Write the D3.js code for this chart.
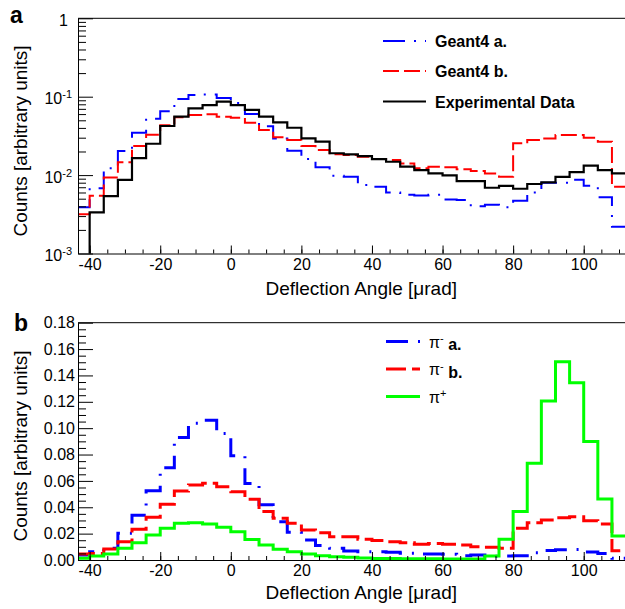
<!DOCTYPE html>
<html>
<head>
<meta charset="utf-8">
<script src="https://cdn.jsdelivr.net/npm/d3@7"></script>
<style>
  body { margin: 0; background: #fff; }
  svg { display: block; font-family: "Liberation Sans", Arial, Helvetica, sans-serif; }
</style>
</head>
<body>
<svg id="chart" width="625" height="609"></svg>
<script>
// bin edges of the histograms (4 µrad bins)
const binEdges = [-44, -40, -36, -32, -28, -24, -20, -16, -12, -8, -4, 0, 4, 8, 12, 16, 20, 24, 28, 32,
  36, 40, 44, 48, 52, 56, 60, 64, 68, 72, 76, 80, 84, 88, 92, 96, 100, 104, 108, 112];

// panel a (log scale)
const geant4A = [0.0039, 0.0068, 0.0122, 0.0203, 0.0347, 0.0524, 0.065, 0.0935, 0.105, 0.107, 0.096,
  0.083, 0.060, 0.042, 0.0294, 0.0205, 0.016, 0.0126, 0.0098, 0.0095, 0.0075, 0.0071, 0.0060, 0.0056,
  0.0055, 0.0056, 0.0049, 0.0048, 0.0040, 0.0042, 0.0039, 0.0047, 0.0060, 0.0080, 0.0080, 0.0087,
  0.0073, 0.0052, 0.0022];
const geant4B = [0.00316, 0.00546, 0.0093, 0.0146, 0.0235, 0.0328, 0.0432, 0.0546, 0.0585, 0.0596, 0.0556,
  0.054, 0.0466, 0.0376, 0.0303, 0.028, 0.0235, 0.0209, 0.0184, 0.018, 0.0172, 0.016, 0.0156, 0.0141,
  0.0122, 0.0128, 0.0126, 0.0119, 0.0113, 0.0105, 0.0095, 0.0254, 0.028, 0.0294, 0.0325, 0.0325,
  0.030, 0.0267, 0.0071];
const expData = [0, 0.00335, 0.0054, 0.0087, 0.0165, 0.0251, 0.0423, 0.0556, 0.0711, 0.0783, 0.0864,
  0.078, 0.068, 0.0556, 0.0471, 0.0402, 0.0294, 0.0267, 0.019, 0.0184, 0.0175, 0.016, 0.0148, 0.0128,
  0.0116, 0.0105, 0.0099, 0.0084, 0.0084, 0.0069, 0.0073, 0.0067, 0.0077, 0.0081, 0.0095, 0.0109,
  0.0132, 0.0116, 0.0105];

// panel b (linear scale)
const piMinusA = [0.0038, 0.0063, 0.009, 0.0202, 0.034, 0.0526, 0.070, 0.093, 0.1037, 0.106, 0.096,
  0.079, 0.058, 0.042, 0.029, 0.021, 0.0152, 0.011, 0.0089, 0.0068, 0.0063, 0.0063, 0.0058, 0.0052,
  0.0045, 0.0045, 0.0043, 0.0032, 0.0037, 0.0028, 0.003, 0.0032, 0.0055, 0.0072, 0.0078, 0.0080,
  0.006, 0.005, 0.0013];
const piMinusB = [0.0045, 0.005, 0.0083, 0.0139, 0.0233, 0.0324, 0.0422, 0.0523, 0.0569, 0.0582, 0.0556,
  0.0518, 0.046, 0.0367, 0.0316, 0.0278, 0.0228, 0.0207, 0.0177, 0.0177, 0.0157, 0.0147, 0.0139, 0.0131,
  0.0119, 0.0126, 0.012, 0.0114, 0.0101, 0.0097, 0.0089, 0.024, 0.0283, 0.0303, 0.0321, 0.0329,
  0.0298, 0.0273, 0.0071];
const piPlus = [0.0013, 0.003, 0.0045, 0.0089, 0.0131, 0.019, 0.024, 0.0278, 0.0283, 0.0273, 0.0248,
  0.0215, 0.0155, 0.0114, 0.0081, 0.0063, 0.0045, 0.0033, 0.0025, 0.002, 0.0015, 0.0012, 0.0011, 0.001,
  0.001, 0.0009, 0.0008, 0.0008, 0.0008, 0.003, 0.0157, 0.0367, 0.0733, 0.1206, 0.1504, 0.1345,
  0.0898, 0.0463, 0.0182];

// ticks
const xMajor = [-40, -20, 0, 20, 40, 60, 80, 100];
const xMinor = [-40, -35, -30, -25, -20, -15, -10, -5, 0, 5, 10, 15, 20, 25, 30, 35, 40, 45, 50, 55,
  60, 65, 70, 75, 80, 85, 90, 95, 100, 105, 110];
const yMajorA = [1e-3, 1e-2, 1e-1, 1];
const yLabelA = [["10", "-3"], ["10", "-2"], ["10", "-1"], ["1", ""]];
const yMinorA = [0.002, 0.003, 0.004, 0.005, 0.006, 0.007, 0.008, 0.009,
  0.02, 0.03, 0.04, 0.05, 0.06, 0.07, 0.08, 0.09, 0.2, 0.3, 0.4, 0.5, 0.6, 0.7, 0.8, 0.9];
const yMajorB = [0, 0.02, 0.04, 0.06, 0.08, 0.10, 0.12, 0.14, 0.16, 0.18];
const yMinorB = [0.005, 0.01, 0.015, 0.025, 0.03, 0.035, 0.045, 0.05, 0.055, 0.065, 0.07, 0.075,
  0.085, 0.09, 0.095, 0.105, 0.11, 0.115, 0.125, 0.13, 0.135, 0.145, 0.15, 0.155, 0.165, 0.17, 0.175];

const svg = d3.select("#chart");
const left = 78, right = 625;

const x = d3.scaleLinear().domain([-43.3, 111.7]).range([left, right]);
const yA = d3.scaleLog().domain([1e-3, 1]).range([253.5, 18.3]);
const yB = d3.scaleLinear().domain([0, 0.18]).range([560, 322.7]);

const panels = [
  {
    id: "a", y: yA, top: 18.3, bottom: 253.5, letterY: 23, titleCenter: 141, xTitleY: 295, xPad: 5,
    series: [
      { vals: geant4A, color: "#0000ff", dash: "22,9,2,9", width: 2, label: ["Geant4 a."] },
      { vals: geant4B, color: "#ff0000", dash: "16,5", width: 2, label: ["Geant4 b."] },
      { vals: expData, color: "#000000", dash: null, width: 2.2, label: ["Experimental Data"] }
    ],
    legendLineX: [383, 426], legendY: [41, 71, 101.5], legendTextX: 435
  },
  {
    id: "b", y: yB, top: 322.7, bottom: 560, letterY: 331, titleCenter: 446, xTitleY: 599, xPad: 5,
    series: [
      { vals: piMinusA, color: "#0000ff", dash: "22,10,2,10", width: 3, label: ["π", "-", " a."] },
      { vals: piMinusB, color: "#ff0000", dash: "20,6", width: 3, label: ["π", "-", " b."] },
      { vals: piPlus, color: "#00ff00", dash: null, width: 3, label: ["π", "+", ""] }
    ],
    legendLineX: [386, 420], legendY: [341.5, 369, 396.5], legendTextX: 429
  }
];

panels.forEach(p => {
  const g = svg.append("g");
  const clipId = "clip-" + p.id;
  svg.append("clipPath").attr("id", clipId)
    .append("rect")
    .attr("x", left).attr("y", p.top)
    .attr("width", right - left + 10).attr("height", p.bottom - p.top);

  const yv = v => v > 0 ? p.y(v) : p.bottom + 20;
  const line = d3.line()
    .x(d => x(d[0]))
    .y(d => yv(d[1]))
    .curve(d3.curveStepAfter);

  const plot = g.append("g").attr("clip-path", `url(#${clipId})`);
  p.series.forEach(s => {
    const pts = binEdges.map((e, i) => [e, s.vals[Math.min(i, s.vals.length - 1)]]);
    plot.append("path")
      .datum(pts)
      .attr("d", line)
      .attr("fill", "none")
      .attr("stroke", s.color)
      .attr("stroke-width", s.width)
      .attr("stroke-linejoin", "miter")
      .attr("stroke-dasharray", s.dash);
  });

  // frame top line
  g.append("line")
    .attr("x1", left).attr("x2", right)
    .attr("y1", p.top).attr("y2", p.top)
    .attr("stroke", "#000").attr("stroke-width", 1);

  // x axis
  g.append("g")
    .attr("transform", `translate(0,${p.bottom})`)
    .call(d3.axisBottom(x).tickValues(xMinor).tickSize(-4).tickSizeOuter(0).tickFormat(""))
    .call(a => a.select(".domain").remove());
  const xa = g.append("g")
    .attr("transform", `translate(0,${p.bottom})`)
    .call(d3.axisBottom(x).tickValues(xMajor).tickSize(-8).tickSizeOuter(0)
      .tickPadding(p.xPad).tickFormat(d => String(d)));
  xa.selectAll("text").style("font-size", "16px").attr("fill", "#000");

  // y axis
  const yMinor = p.id === "a" ? yMinorA : yMinorB;
  const yMajor = p.id === "a" ? yMajorA : yMajorB;
  g.append("g")
    .attr("transform", `translate(${left},0)`)
    .call(d3.axisLeft(p.y).tickValues(yMinor).tickSize(-8).tickSizeOuter(0).tickFormat(""))
    .call(a => a.select(".domain").remove());
  const ya = g.append("g")
    .attr("transform", `translate(${left},0)`)
    .call(d3.axisLeft(p.y).tickValues(yMajor).tickSize(-15).tickSizeOuter(0)
      .tickPadding(p.id === "a" ? 6 : 3)
      .tickFormat(p.id === "a" ? "" : d3.format(".2f")));
  ya.selectAll("text").style("font-size", "16px").attr("fill", "#000");
  if (p.id === "a") {
    ya.selectAll(".tick text").each(function(d) {
      const t = d3.select(this);
      const lab = yLabelA[yMajorA.indexOf(d)];
      t.attr("dy", "0.45em");
      t.append("tspan").text(lab[0]);
      if (lab[1]) {
        t.append("tspan").attr("dy", "-0.55em").style("font-size", "11px").text(lab[1]);
      } else {
        t.attr("dx", "-4");
      }
    });
  }
  g.selectAll(".domain").attr("stroke", "#000");
  g.selectAll(".tick line").attr("stroke", "#000");

  // axis titles
  g.append("text")
    .attr("x", 457).attr("y", p.xTitleY)
    .attr("text-anchor", "end")
    .style("font-size", "19px")
    .text("Deflection Angle [μrad]");
  g.append("text")
    .attr("transform", `translate(27,${p.titleCenter}) rotate(-90)`)
    .attr("text-anchor", "middle")
    .style("font-size", "19px")
    .text("Counts [arbitrary units]");

  // panel letter
  g.append("text")
    .attr("x", p.id === "a" ? 10 : 14).attr("y", p.letterY)
    .style("font-size", "23px").style("font-weight", "bold")
    .text(p.id);

  // legend
  const leg = g.append("g");
  p.series.forEach((s, i) => {
    const ly = p.legendY[i];
    leg.append("line")
      .attr("x1", p.legendLineX[0]).attr("x2", p.legendLineX[1])
      .attr("y1", ly).attr("y2", ly)
      .attr("stroke", s.color)
      .attr("stroke-width", s.width)
      .attr("stroke-dasharray", s.dash);
    const t = leg.append("text")
      .attr("x", p.legendTextX).attr("y", ly + 6)
      .style("font-size", "16px");
    if (s.label.length === 1) {
      t.style("font-weight", "bold").text(s.label[0]);
    } else {
      t.append("tspan").text(s.label[0]);
      t.append("tspan").attr("dy", "-0.5em").style("font-size", "11px").text(s.label[1]);
      t.append("tspan").attr("dy", "0.5em").style("font-weight", "bold").text(s.label[2]);
    }
  });
});
</script>
</body>
</html>
